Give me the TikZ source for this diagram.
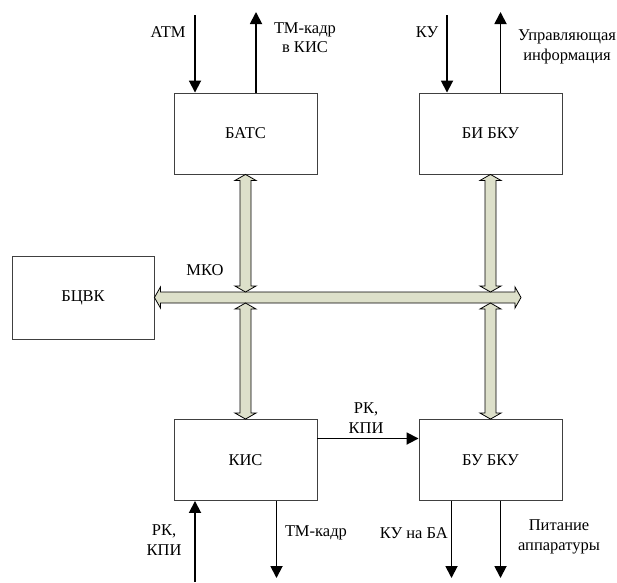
\documentclass[tikz,border=0pt]{standalone}
\usepackage{fontspec}
\setmainfont{LiberationSerif}[Extension=.ttf, UprightFont=*-Regular, BoldFont=*-Bold]
\definecolor{shinacol}{HTML}{DDE0CA}
\usetikzlibrary{calc, arrows.meta}

\tikzset{
  blok/.style={draw=black!75, line width=0.9pt, minimum width=143pt, minimum height=81pt, inner sep=0pt},
  sig/.style={line width=1.8pt, -{Triangle[length=12pt,width=12pt]}},
  shina/.style={draw=black, line width=0.8pt, fill=shinacol},
  txt/.style={align=center, inner sep=0pt}
}

% vertical bus arrow: top point, bottom point
\newcommand{\vshina}[2]{%
  \draw[shina] let \p1=#1, \p2=#2 in
    (\x1,\y1) -- (\x1+10.5pt,\y1-6pt) -- (\x1+5.5pt,\y1-6pt) -- (\x1+5.5pt,\y2+6pt)
    -- (\x1+10.5pt,\y2+6pt) -- (\x1,\y2) -- (\x1-10.5pt,\y2+6pt) -- (\x1-5.5pt,\y2+6pt)
    -- (\x1-5.5pt,\y1-6pt) -- (\x1-10.5pt,\y1-6pt) -- cycle;}
% horizontal bus arrow: left point, right point
\newcommand{\hshina}[2]{%
  \draw[shina] let \p1=#1, \p2=#2 in
    (\x1,\y1) -- (\x1+6pt,\y1+10.5pt) -- (\x1+6pt,\y1+5.5pt) -- (\x2-6pt,\y1+5.5pt)
    -- (\x2-6pt,\y1+10.5pt) -- (\x2,\y1) -- (\x2-6pt,\y1-10.5pt) -- (\x2-6pt,\y1-5.5pt)
    -- (\x1+6pt,\y1-5.5pt) -- (\x1+6pt,\y1-10.5pt) -- cycle;}

\begin{document}
\begin{tikzpicture}[x=1pt, y=-1pt, font=\fontsize{16.5}{19.5}\selectfont]
\useasboundingbox (0,0) rectangle (617,582);

% blocks
\node[blok] (batc) at (245.5,133.5) {БАТС};
\node[blok] (bibku) at (490.5,133.5) {БИ БКУ};
\node[blok, minimum width=142pt, minimum height=83pt] (bcvk) at (83,297.5) {БЦВК};
\node[blok] (kis) at (245.5,460) {КИС};
\node[blok] (bubku) at (490.5,460) {БУ БКУ};

% bus МКО
\coordinate (mkoT) at (0,292);
\coordinate (mkoB) at (0,303);
\coordinate (mkoR) at (521,297.5);
\hshina{(bcvk.east)}{(mkoR)}
\vshina{(batc.south)}{(batc.south |- mkoT)}
\vshina{(bibku.south)}{(bibku.south |- mkoT)}
\vshina{(kis.north |- mkoB)}{(kis.north)}
\vshina{(bubku.north |- mkoB)}{(bubku.north)}
\node[txt] (mko) at (205,270) {МКО};

% inputs / outputs
\coordinate (atmIn) at (195,15);
\coordinate (tmOut) at (256,12);
\coordinate (kuIn) at (447,15);
\coordinate (uprOut) at (500.5,12);
\draw[sig] (atmIn) -- (atmIn |- batc.north);
\draw[sig] (tmOut |- batc.north) -- (tmOut);
\draw[sig] (kuIn) -- (kuIn |- bibku.north);
\draw[sig] (uprOut |- bibku.north) -- (uprOut);
\node[txt] (atm) at (168,32) {АТМ};
\node[txt] (tmkis) at (305,37.5) {ТМ-кадр\\в КИС};
\node[txt] (ku) at (427,32) {КУ};
\node[txt] (upr) at (567,47) {Управляющая\\информация};

\draw[sig] (kis.east |- 0,438.5) -- (bubku.west |- 0,438.5);
\node[txt] (rk) at (366,418) {РК,\\КПИ};

\coordinate (rkIn) at (195,582);
\coordinate (tmDown) at (276.5,578);
\coordinate (kuBa) at (451.5,578);
\coordinate (pit) at (500.5,578);
\draw[sig] (rkIn) -- (rkIn |- kis.south);
\draw[sig] (tmDown |- kis.south) -- (tmDown);
\draw[sig] (kuBa |- bubku.south) -- (kuBa);
\draw[sig] (pit |- bubku.south) -- (pit);
\node[txt] (rk2) at (164,540) {РК,\\КПИ};
\node[txt] (tmk) at (316,533) {ТМ-кадр};
\node[txt, anchor=east] (kuba) at (448,533) {КУ на БА};
\node[txt] (pitan) at (559,537) {Питание\\аппаратуры};
\end{tikzpicture}
\end{document}
